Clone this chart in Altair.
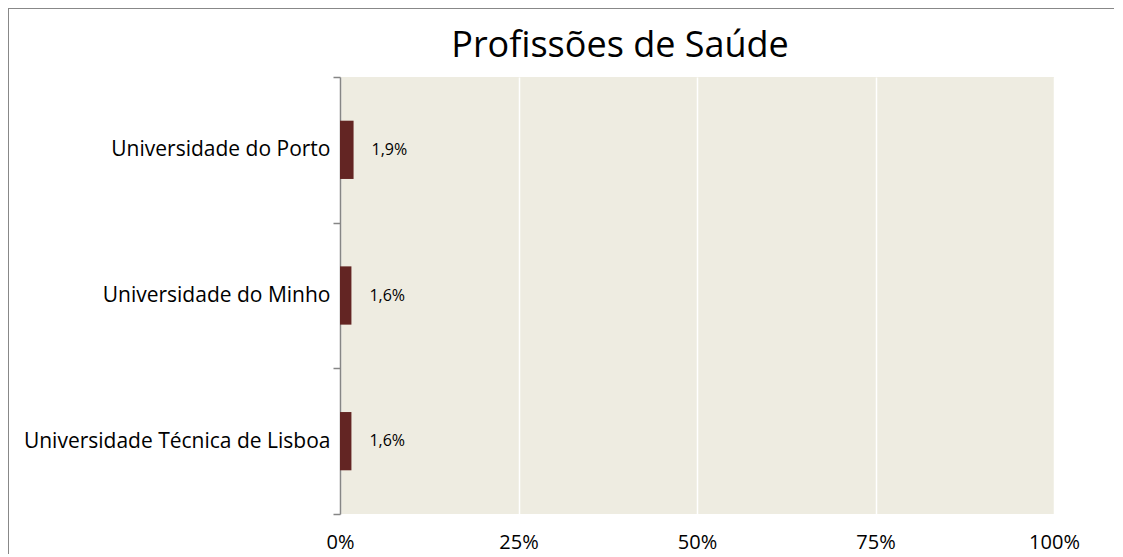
import altair as alt
import pandas as pd

universidades = ["Universidade do Porto", "Universidade do Minho", "Universidade Técnica de Lisboa"]
valores = [1.9, 1.6, 1.6]
x_ticks = [0, 25, 50, 75, 100]
titulo = "Profissões de Saúde"

df = pd.DataFrame({"uni": universidades, "v": valores})
df_title = pd.DataFrame({"t": [titulo]})

W, H = 714, 437
FONT = "Open Sans"

y_enc = alt.Y("uni:N", sort=universidades, title=None,
              scale=alt.Scale(paddingInner=0, paddingOuter=0),
              axis=alt.Axis(domainColor="#868686", domainWidth=1.5, tickColor="#868686",
                            tickWidth=1.5, tickSize=7, tickBand="extent", labelPadding=3,
                            labelFont=FONT, labelFontSize=21, labelColor="#000000",
                            labelLimit=400))
x_enc = alt.X("v:Q", title=None, scale=alt.Scale(domain=[0, 100], nice=False),
              axis=alt.Axis(values=x_ticks, labelExpr="datum.value + '%'", domain=False,
                            ticks=False, tickSize=0, grid=True, gridColor="#FFFFFF",
                            gridWidth=1.5, labelPadding=18, labelFont=FONT,
                            labelFontSize=20, labelColor="#000000", labelFlush=False))

bars = alt.Chart(df).mark_bar(color="#632523", height=alt.RelativeBandSize(0.4)).encode(
    x=x_enc, y=y_enc)
labels = alt.Chart(df).transform_calculate(
    lab="replace(format(datum.v, '.1f'), '.', ',') + '%'"
).mark_text(align="left", baseline="middle", dx=18, font=FONT, fontSize=16,
            color="#000000").encode(x="v:Q", y=alt.Y("uni:N", sort=universidades), text="lab:N")

title_mark = alt.Chart(df_title).mark_text(
    align="center", baseline="alphabetic", font=FONT, fontSize=36, color="#000000"
).encode(x=alt.value(280), y=alt.value(-20), text="t:N")

border_top = alt.Chart(df).mark_rule(color="#888888", strokeWidth=2, clip=False).encode(
    x=alt.value(-333), x2=alt.value(W + 60), y=alt.value(-69))
border_left = alt.Chart(df).mark_rule(color="#888888", strokeWidth=2, clip=False).encode(
    x=alt.value(-332), y=alt.value(-70), y2=alt.value(H + 40))

chart = alt.layer(bars, labels, title_mark, border_top, border_left).properties(
    width=W, height=H,
    autosize=alt.AutoSizeParams(type="none"),
    padding={"left": 332, "top": 69, "right": 60, "bottom": 40},
).configure_view(fill="#EEECE1", stroke=None)

chart.save("out.html", embed_options={"renderer": "svg", "actions": False})
